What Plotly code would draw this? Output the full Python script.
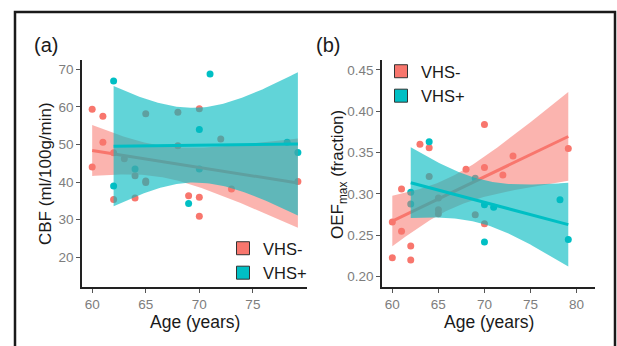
import math
import numpy as np
import plotly.graph_objects as go

# ---------------- data ----------------
a_neg_age = [60, 61, 61, 60, 62, 62, 64, 64, 65, 65, 65, 63, 68, 68, 70, 69, 70, 70, 72, 73, 79.2]
a_neg_cbf = [59.4, 57.5, 50.6, 44.0, 47.8, 35.4, 35.8, 41.7, 58.2, 40.3, 39.9, 46.2, 58.6, 49.7,
             59.5, 36.4, 36.0, 30.9, 51.5, 38.2, 40.2]
a_pos_age = [62, 71, 70, 70, 64, 62, 69, 78.2, 79.2]
a_pos_cbf = [66.9, 68.8, 54.0, 43.5, 43.5, 39.0, 34.3, 50.6, 47.9]

b_neg_age = [60, 61, 63, 64, 70, 68, 70, 73.1, 72, 79.1, 61, 60, 62, 62, 70, 64, 65, 65, 65, 69]
b_neg_oef = [0.266, 0.306, 0.360, 0.356, 0.384, 0.330, 0.332, 0.346, 0.323, 0.355, 0.255, 0.223,
             0.237, 0.220, 0.264, 0.321, 0.295, 0.281, 0.276, 0.275]
b_pos_age = [64, 62, 62, 69, 70, 71, 78.2, 70, 79.1]
b_pos_oef = [0.363, 0.302, 0.288, 0.319, 0.287, 0.284, 0.293, 0.242, 0.245]

groups = ["VHS-", "VHS+"]
x_ticks_a = [60, 65, 70, 75]
y_ticks_a = [20, 30, 40, 50, 60, 70]
x_ticks_b = [60, 65, 70, 75, 80]
y_ticks_b = [0.20, 0.25, 0.30, 0.35, 0.40, 0.45]

RED = "#F8766D"
TEAL = "#00BFC4"
RED_FILL = "rgba(248,118,109,0.55)"
TEAL_FILL = "rgba(0,185,192,0.62)"
FONT = "Liberation Sans, Arial, sans-serif"
W, H = 617, 346


def t_quantile(p, df):
    c = math.gamma((df + 1) / 2) / (math.sqrt(df * math.pi) * math.gamma(df / 2))

    def cdf0(x):
        g = np.linspace(0, x, 2001)
        f = c * (1 + g ** 2 / df) ** (-(df + 1) / 2)
        return float(np.trapezoid(f, g))

    lo, hi = 0.0, 20.0
    for _ in range(60):
        mid = (lo + hi) / 2
        if cdf0(mid) < p - 0.5:
            lo = mid
        else:
            hi = mid
    return (lo + hi) / 2


def lm_band(xs, ys, n=80):
    x = np.asarray(xs, float)
    y = np.asarray(ys, float)
    b1, b0 = np.polyfit(x, y, 1)
    res = y - (b0 + b1 * x)
    dof = len(x) - 2
    s = math.sqrt(float(np.sum(res ** 2)) / dof)
    sxx = float(np.sum((x - x.mean()) ** 2))
    g = np.linspace(x.min(), x.max(), n)
    fit = b0 + b1 * g
    se = s * np.sqrt(1 / len(x) + (g - x.mean()) ** 2 / sxx)
    t = t_quantile(0.975, dof)
    return g, fit, fit - t * se, fit + t * se


fig = go.Figure()


def add_panel(xa, ya, neg_x, neg_y, pos_x, pos_y):
    # points first (as ggplot geom_point), then smooths per group
    fig.add_trace(go.Scatter(x=neg_x, y=neg_y, mode="markers", xaxis=xa, yaxis=ya,
                             marker=dict(color=RED, size=7), showlegend=False, hoverinfo="x+y"))
    fig.add_trace(go.Scatter(x=pos_x, y=pos_y, mode="markers", xaxis=xa, yaxis=ya,
                             marker=dict(color=TEAL, size=7), showlegend=False, hoverinfo="x+y"))
    for xs, ys, col, fill in [(neg_x, neg_y, RED, RED_FILL), (pos_x, pos_y, TEAL, TEAL_FILL)]:
        g, fit, lo, hi = lm_band(xs, ys)
        fig.add_trace(go.Scatter(x=np.concatenate([g, g[::-1]]), y=np.concatenate([hi, lo[::-1]]),
                                 mode="lines", fill="toself", fillcolor=fill, line=dict(width=0),
                                 xaxis=xa, yaxis=ya, showlegend=False, hoverinfo="skip"))
        fig.add_trace(go.Scatter(x=g, y=fit, mode="lines", line=dict(color=col, width=3),
                                 xaxis=xa, yaxis=ya, showlegend=False, hoverinfo="skip"))


add_panel("x", "y", a_neg_age, a_neg_cbf, a_pos_age, a_pos_cbf)
add_panel("x2", "y2", b_neg_age, b_neg_oef, b_pos_age, b_pos_oef)

# legend entries
for leg, xa, ya in [("legend", "x", "y"), ("legend2", "x2", "y2")]:
    for name, col in zip(groups, [RED, TEAL]):
        fig.add_trace(go.Scatter(x=[None], y=[None], mode="markers", name=name, legend=leg,
                                 legendgroup=leg + name, xaxis=xa, yaxis=ya,
                                 marker=dict(symbol="square", size=13, color=col,
                                             line=dict(color="#333333", width=1))))

axis_common = dict(showgrid=False, zeroline=False, showline=True, linecolor="#222222", linewidth=1.6,
                   ticks="outside", ticklen=4, tickcolor="#555555", tickwidth=1,
                   tickfont=dict(family=FONT, size=13.5, color="#7d7d7d"), mirror=False)

fig.update_layout(
    width=W, height=H, margin=dict(l=0, r=0, t=0, b=0),
    paper_bgcolor="white", plot_bgcolor="white",
    xaxis=dict(domain=[82 / W, 307 / W], range=[59.05, 80.05], tickvals=x_ticks_a, anchor="y", **axis_common),
    yaxis=dict(domain=[1 - 287 / H, 1 - 60 / H], range=[12.1, 72.5], tickvals=y_ticks_a, anchor="x", **axis_common),
    xaxis2=dict(domain=[382 / W, 595 / W], range=[58.88, 82.0], tickvals=x_ticks_b, anchor="y2", **axis_common),
    yaxis2=dict(domain=[1 - 287 / H, 1 - 60 / H], range=[0.1875, 0.462], tickvals=y_ticks_b,
                tickformat=".2f", anchor="x2", **axis_common),
    legend=dict(x=223 / W, y=1 - 231 / H, xanchor="left", yanchor="top", bgcolor="rgba(0,0,0,0)",
                font=dict(family=FONT, size=16.5, color="#1a1a1a"), tracegroupgap=0, itemclick=False),
    legend2=dict(x=381 / W, y=1 - 54 / H, xanchor="left", yanchor="top", bgcolor="rgba(0,0,0,0)",
                 font=dict(family=FONT, size=16.5, color="#1a1a1a"), tracegroupgap=0, itemclick=False),
    showlegend=True,
)

ann = [
    dict(text="(a)", x=32 / W, y=1 - 45 / H, xanchor="left", yanchor="middle", font=dict(size=20)),
    dict(text="(b)", x=314 / W, y=1 - 45 / H, xanchor="left", yanchor="middle", font=dict(size=20)),
    dict(text="CBF (ml/100g/min)", x=45 / W, y=1 - 173 / H, textangle=-90, xanchor="center",
         yanchor="middle", font=dict(size=17)),
    dict(text="OEF<sub>max</sub> (fraction)", x=339 / W, y=1 - 175 / H, textangle=-90,
         xanchor="center", yanchor="middle", font=dict(size=17)),
    dict(text="Age (years)", x=194.5 / W, y=1 - 322 / H, xanchor="center", yanchor="middle",
         font=dict(size=17.5)),
    dict(text="Age (years)", x=488.5 / W, y=1 - 322 / H, xanchor="center", yanchor="middle",
         font=dict(size=17.5)),
]
for a in ann:
    a.update(xref="paper", yref="paper", showarrow=False)
    a["font"].update(family=FONT, color="#1a1a1a")
fig.update_layout(annotations=ann)

# outer frame (open at the bottom)
fx0, fx1, fy = 15 / W, 615 / W, 1 - 12 / H
fig.add_shape(type="path", xref="paper", yref="paper",
              path=f"M {fx0} -0.05 L {fx0} {fy} L {fx1} {fy} L {fx1} -0.05",
              line=dict(color="#1a1a1a", width=2.5))

fig.write_html("out.html", config={"displayModeBar": False},
               post_script="document.body.style.margin='0';document.body.style.overflow='hidden';")
